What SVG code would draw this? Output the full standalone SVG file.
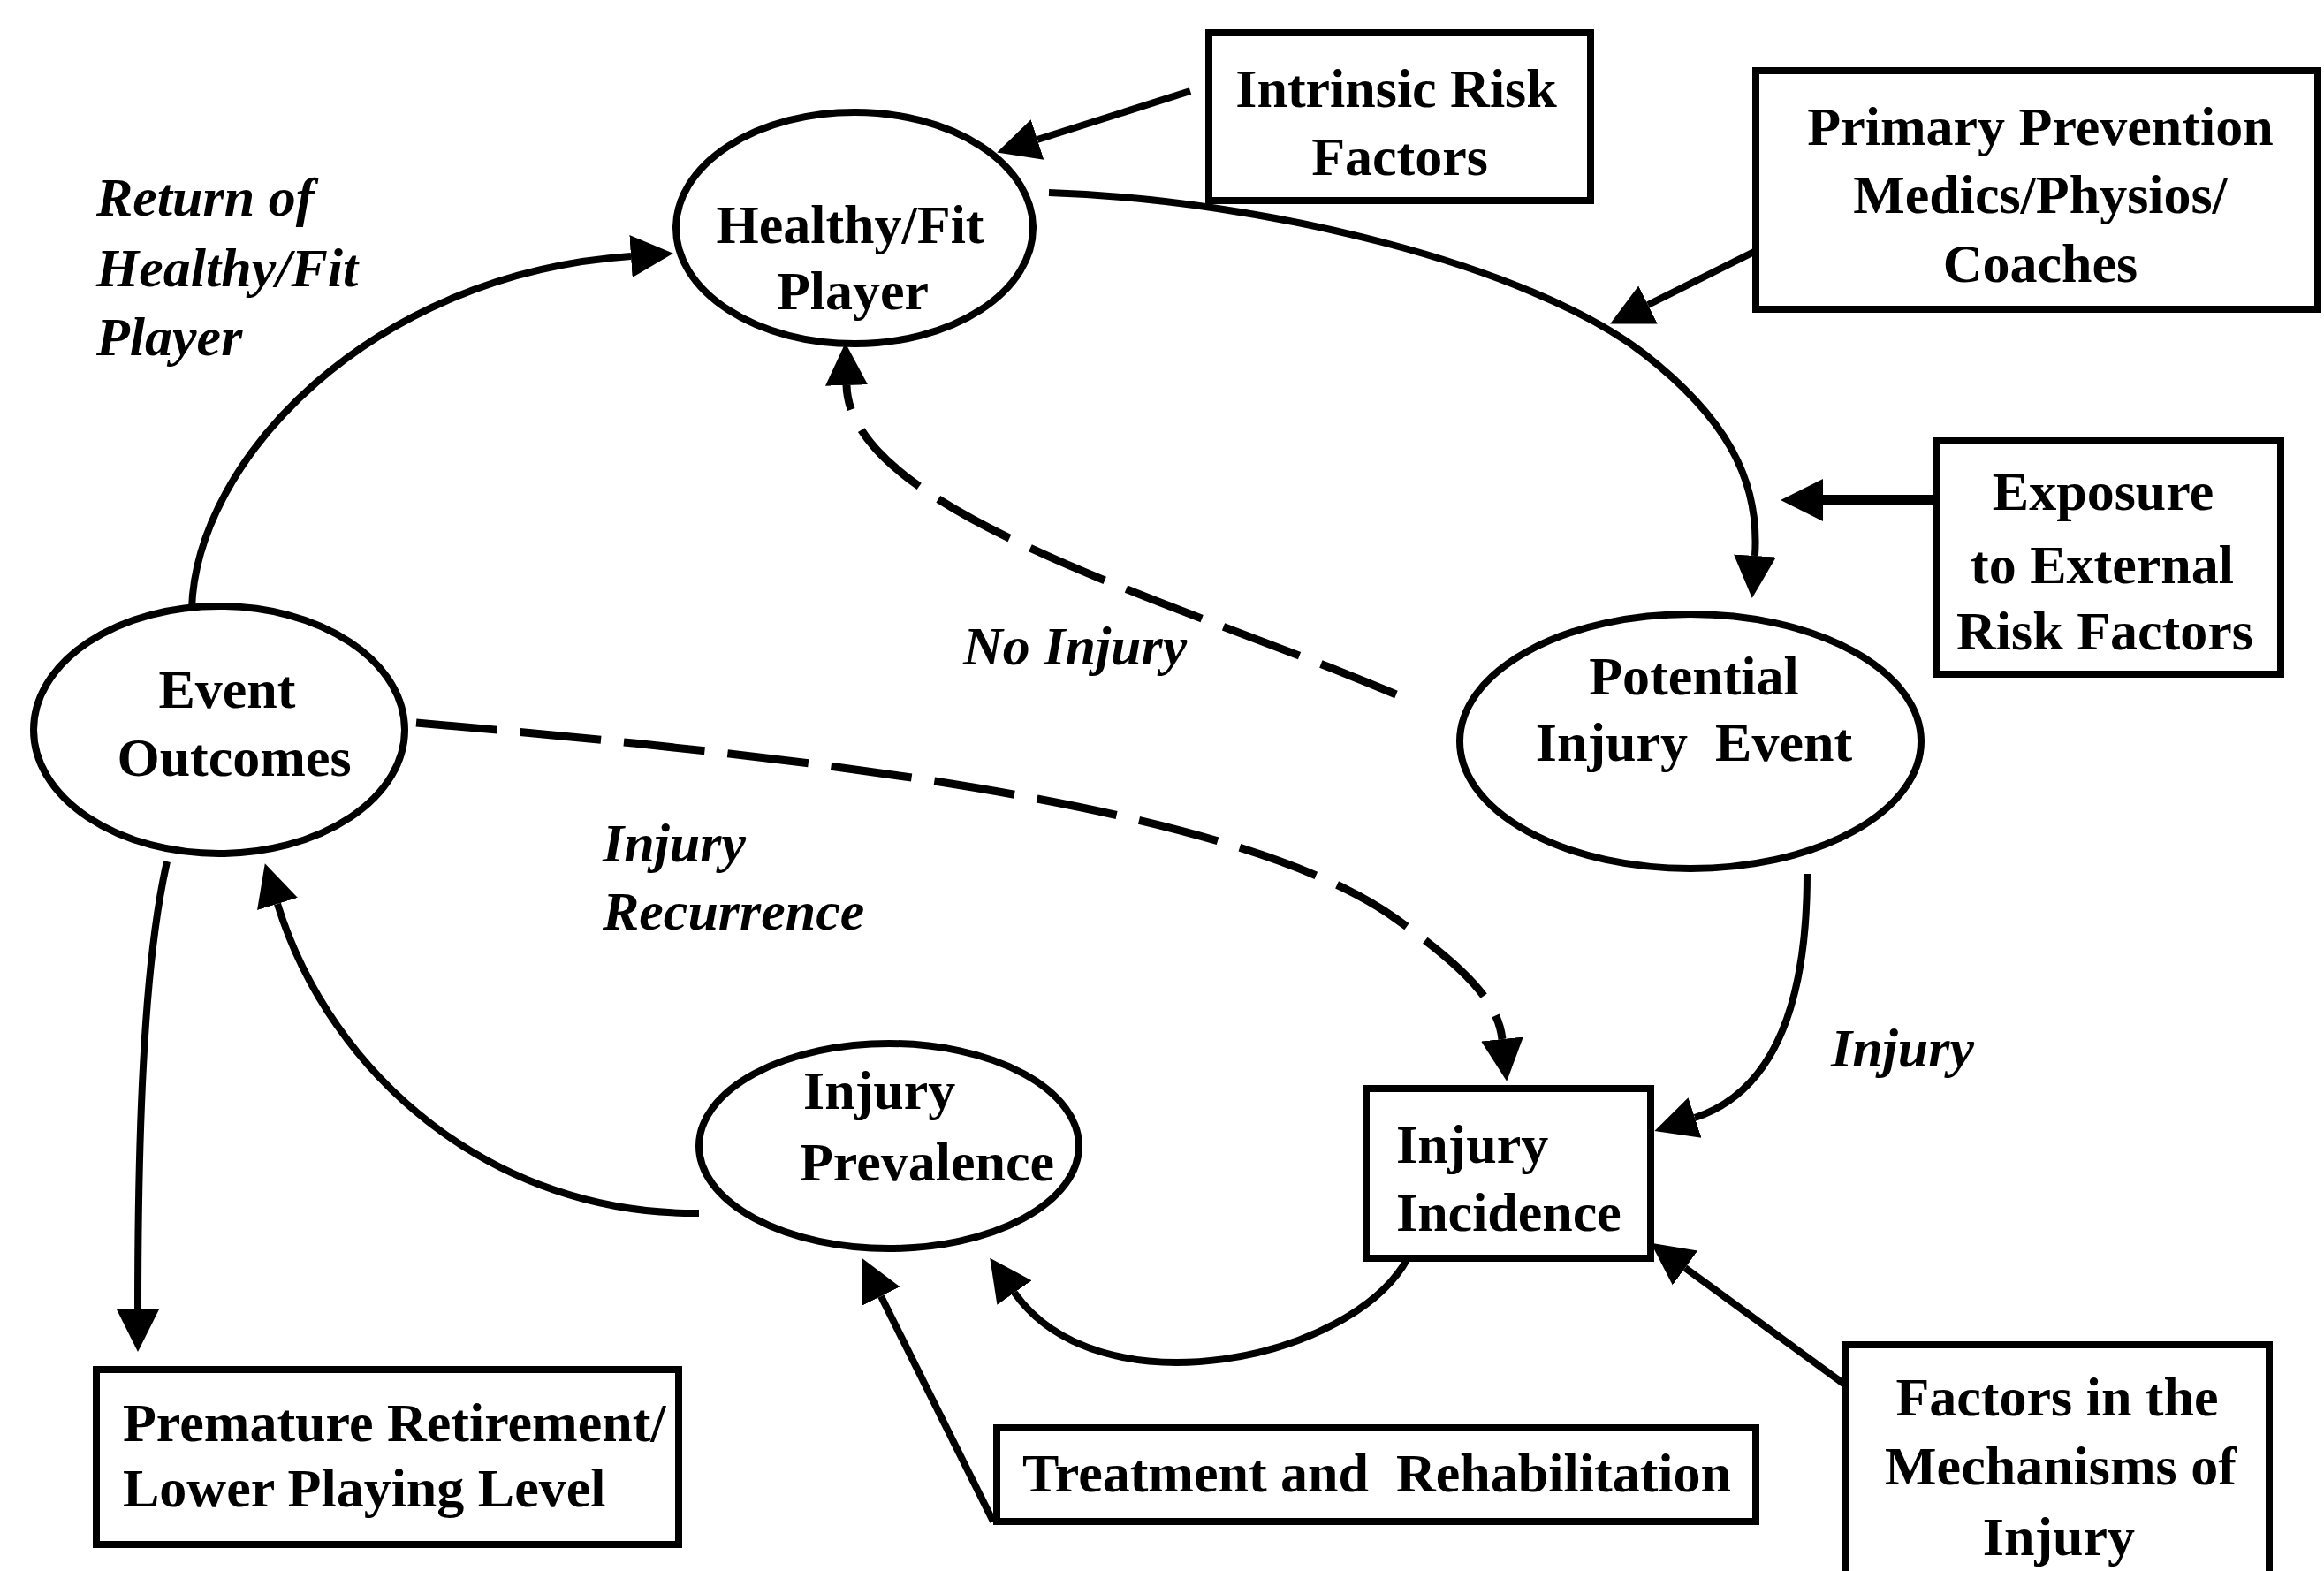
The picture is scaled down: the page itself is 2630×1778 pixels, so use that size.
<svg xmlns="http://www.w3.org/2000/svg" width="2630" height="1778" viewBox="0 0 2630 1778">
  <style>
    .node { fill: #fff; stroke: #000; stroke-width: 8; }
    .lbl { font-family: "Liberation Serif", "Times New Roman", serif; font-size: 62px; font-weight: bold; fill: #000; }
    .mid { text-anchor: middle; }
    .ital { font-family: "Liberation Serif", "Times New Roman", serif; font-size: 62px; font-weight: bold; font-style: italic; fill: #000; }
    .wire { fill: none; stroke: #000; stroke-width: 8; marker-end: url(#head); }
    .dash { stroke-dasharray: 92 26; stroke-width: 9; }
    .thick { stroke-width: 12; }
  </style>
  <defs>
    <marker id="head" markerUnits="userSpaceOnUse" viewBox="0 -26 52 52" markerWidth="52" markerHeight="52" refX="0" refY="0" orient="auto">
      <path d="M0,-24 L48,0 L0,24 Z" fill="#000"/>
    </marker>
  </defs>

  <rect x="0" y="0" width="2630" height="1778" fill="#fff"/>

  <!-- connectors -->
  <g id="connectors">
    <path class="wire" d="M217,689 C222,520 420,310 714,290"/>
    <path class="wire" d="M1347,103 L1174,158"/>
    <path class="wire" d="M1187,218 C1430,226 1730,300 1860,400 C1950,470 1992,540 1986,629"/>
    <path class="wire" d="M1987,284 L1865,345"/>
    <path class="wire thick" d="M2212,566 L2063,566"/>
    <path class="wire dash" d="M1580,786 C1330,680 962,580 958,436"/>
    <path class="wire dash" d="M471,818 C900,855 1400,910 1580,1040 C1650,1090 1695,1130 1700,1176"/>
    <path class="wire" d="M2045,989 C2045,1150 2000,1238 1918,1265"/>
    <path class="wire" d="M1593,1424 C1530,1540 1245,1600 1148,1463"/>
    <path class="wire" d="M1124,1722 L997,1467"/>
    <path class="wire" d="M2089,1568 L1907,1435"/>
    <path class="wire" d="M791,1373 C560,1375 375,1220 314,1023"/>
    <path class="wire" d="M189,975 C165,1080 156,1250 156,1482"/>
  </g>

  <!-- edge labels -->
  <g id="edge-labels">
    <text class="ital" x="109" y="244">Return of</text>
    <text class="ital" x="109" y="324">Healthy/Fit</text>
    <text class="ital" x="109" y="402">Player</text>
    <text class="ital" x="1090" y="752">No Injury</text>
    <text class="ital" x="682" y="975">Injury</text>
    <text class="ital" x="682" y="1052">Recurrence</text>
    <text class="ital" x="2072" y="1207">Injury</text>
  </g>

  <!-- nodes -->
  <g id="healthy-player">
    <ellipse class="node" cx="967" cy="258" rx="202" ry="131"/>
    <text class="lbl mid" x="962" y="275">Healthy/Fit</text>
    <text class="lbl mid" x="965" y="350">Player</text>
  </g>

  <g id="intrinsic-risk">
    <rect class="node" x="1368" y="37" width="432" height="190"/>
    <text class="lbl mid" x="1580" y="121">Intrinsic Risk</text>
    <text class="lbl mid" x="1584" y="198">Factors</text>
  </g>

  <g id="primary-prevention">
    <rect class="node" x="1987" y="80" width="636" height="270"/>
    <text class="lbl mid" x="2309" y="164">Primary Prevention</text>
    <text class="lbl mid" x="2309" y="241">Medics/Physios/</text>
    <text class="lbl mid" x="2309" y="319">Coaches</text>
  </g>

  <g id="external-exposure">
    <rect class="node" x="2191" y="499" width="390" height="264"/>
    <text class="lbl mid" x="2380" y="577">Exposure</text>
    <text class="lbl mid" x="2379" y="660">to External</text>
    <text class="lbl mid" x="2382" y="735">Risk Factors</text>
  </g>

  <g id="potential-event">
    <ellipse class="node" cx="1913" cy="839" rx="261" ry="144"/>
    <text class="lbl mid" x="1917" y="786">Potential</text>
    <text class="lbl mid" x="1917" y="861" xml:space="preserve">Injury  Event</text>
  </g>

  <g id="event-outcomes">
    <ellipse class="node" cx="248" cy="826" rx="210" ry="140"/>
    <text class="lbl mid" x="257" y="801">Event</text>
    <text class="lbl mid" x="265" y="878">Outcomes</text>
  </g>

  <g id="injury-incidence">
    <rect class="node" x="1546" y="1232" width="322" height="192"/>
    <text class="lbl" x="1580" y="1316">Injury</text>
    <text class="lbl" x="1580" y="1393">Incidence</text>
  </g>

  <g id="injury-prevalence">
    <ellipse class="node" cx="1006" cy="1297" rx="215" ry="116"/>
    <text class="lbl" x="909" y="1255">Injury</text>
    <text class="lbl" x="905" y="1336">Prevalence</text>
  </g>

  <g id="retirement">
    <rect class="node" x="109" y="1550" width="659" height="198"/>
    <text class="lbl" x="139" y="1631">Premature Retirement/</text>
    <text class="lbl" x="139" y="1705">Lower Playing Level</text>
  </g>

  <g id="treatment">
    <rect class="node" x="1128" y="1616" width="859" height="106"/>
    <text class="lbl" x="1157" y="1688" xml:space="preserve">Treatment and  Rehabilitation</text>
  </g>

  <g id="injury-mechanisms">
    <rect class="node" x="2089" y="1522" width="479" height="300"/>
    <text class="lbl mid" x="2328" y="1602">Factors in the</text>
    <text class="lbl mid" x="2332" y="1680">Mechanisms of</text>
    <text class="lbl mid" x="2330" y="1760">Injury</text>
  </g>
</svg>
